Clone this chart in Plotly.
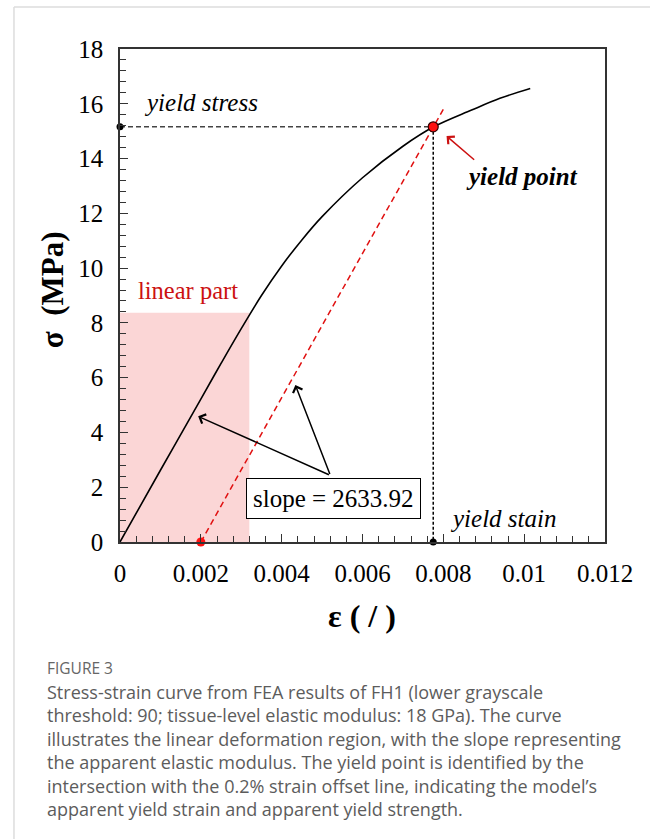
import plotly.graph_objects as go

# ---- data ----
strain = [0, 0.001, 0.002, 0.0025, 0.003, 0.0035, 0.004, 0.0045, 0.005, 0.006, 0.007, 0.00775, 0.0087, 0.0094, 0.01015]
stress = [0, 2.62, 5.22, 6.52, 7.79, 9.00, 10.08, 11.03, 11.88, 13.30, 14.45, 15.15, 15.77, 16.20, 16.56]

slope = 2633.92
offset_strain = 0.002
yield_strain = 0.00775
yield_stress = 15.16
offset_end_strain = 0.00803
linear_strain_max = 0.0032
linear_stress_max = 8.37

x_tickvals = [0, 0.002, 0.004, 0.006, 0.008, 0.01, 0.012]
x_ticktext = ["0", "0.002", "0.004", "0.006", "0.008", "0.01", "0.012"]
y_tickvals = [0, 2, 4, 6, 8, 10, 12, 14, 16, 18]

SERIF = "Liberation Serif"

fig = go.Figure()

# linear part region
fig.add_shape(type="rect", xref="x", yref="y", x0=0, x1=linear_strain_max, y0=0, y1=linear_stress_max,
              fillcolor="#fbd6d6", line_width=0, layer="below")

# stress-strain curve
fig.add_trace(go.Scatter(x=strain, y=stress, mode="lines",
                         line=dict(color="black", width=1.6, shape="spline", smoothing=1.0),
                         hoverinfo="skip"))

# 0.2% offset line
fig.add_trace(go.Scatter(x=[offset_strain, offset_end_strain],
                         y=[0, slope * (offset_end_strain - offset_strain)],
                         mode="lines", line=dict(color="#e01010", width=1.5, dash="6px,4px"), hoverinfo="skip"))

# yield stress horizontal dashed
fig.add_trace(go.Scatter(x=[0, yield_strain], y=[yield_stress, yield_stress], mode="lines",
                         line=dict(color="#444444", width=1.5, dash="5px,3px"), hoverinfo="skip"))
# yield strain vertical dotted
fig.add_trace(go.Scatter(x=[yield_strain, yield_strain], y=[yield_stress, 0], mode="lines",
                         line=dict(color="black", width=1.5, dash="3px,2px"), hoverinfo="skip"))

# black dots on axes
fig.add_trace(go.Scatter(x=[0, yield_strain], y=[yield_stress, 0], mode="markers",
                         marker=dict(color="black", size=7), cliponaxis=False, hoverinfo="skip"))
# red offset origin
fig.add_trace(go.Scatter(x=[offset_strain], y=[0], mode="markers",
                         marker=dict(color="#ff1010", size=9), cliponaxis=False, hoverinfo="skip"))
# yield point
fig.add_trace(go.Scatter(x=[yield_strain], y=[yield_stress], mode="markers",
                         marker=dict(color="#ff1010", size=10, line=dict(color="#330000", width=1.2)),
                         cliponaxis=False, hoverinfo="skip"))

ann = []
ann.append(dict(x=0.00201, y=16.03, xref="x", yref="y", text="<i>yield stress</i>", showarrow=False,
                font=dict(family=SERIF, size=25, color="black")))
ann.append(dict(x=0.00169, y=9.2, xref="x", yref="y", text="linear part", showarrow=False,
                font=dict(family=SERIF, size=24.5, color="#cc1111")))
ann.append(dict(x=0.00994, y=13.33, xref="x", yref="y", text="<b><i>yield point</i></b>", showarrow=False,
                font=dict(family=SERIF, size=25, color="black")))
ann.append(dict(x=0.00947, y=0.87, xref="x", yref="y", text="<i>yield stain</i>", showarrow=False,
                font=dict(family=SERIF, size=25, color="black")))
ann.append(dict(x=0.00527, y=1.60, xref="x", yref="y", text="slope = " + f"{slope:.2f}", showarrow=False,
                font=dict(family=SERIF, size=25, color="black"), bordercolor="black", borderwidth=1,
                borderpad=6, bgcolor="white"))
# arrows from the slope box
for hx, hy in [(0.001934, 4.59), (0.004339, 5.73)]:
    ann.append(dict(x=hx, y=hy, ax=0.005206, ay=2.43, xref="x", yref="y", axref="x", ayref="y", text="",
                    showarrow=True, arrowhead=4, arrowsize=1.3, arrowwidth=1.5, arrowcolor="black", standoff=0))
# red arrow to yield point
ann.append(dict(x=0.00808, y=14.82, ax=0.0088, ay=13.91, xref="x", yref="y", axref="x", ayref="y", text="",
                showarrow=True, arrowhead=4, arrowsize=1.3, arrowwidth=1.5, arrowcolor="#cc1111", standoff=0))

# axis titles
ann.append(dict(x=0.499, y=-0.150, xref="paper", yref="paper", xanchor="center", yanchor="middle",
                text="<b>ε ( / )</b>", showarrow=False, font=dict(family=SERIF, size=32, color="black")))
ann.append(dict(x=-0.140, y=0.511, xref="paper", yref="paper", xanchor="center", yanchor="middle",
                text="<b>σ  (MPa)</b>", showarrow=False,
                textangle=-90, font=dict(family=SERIF, size=31, color="black")))

# caption
ann.append(dict(x=-0.1546, y=-0.2556, xref="paper", yref="paper", xanchor="left", yanchor="middle",
                text="FIGURE 3", showarrow=False, font=dict(family="Open Sans", size=15.5, color="#666666")))
caption = ("Stress-strain curve from FEA results of FH1 (lower grayscale<br>"
           "threshold: 90; tissue-level elastic modulus: 18 GPa). The curve<br>"
           "illustrates the linear deformation region, with the slope representing<br>"
           "the apparent elastic modulus. The yield point is identified by the<br>"
           "intersection with the 0.2% strain offset line, indicating the model’s<br>"
           "apparent yield strain and apparent yield strength.")
ann.append(dict(x=-0.1546, y=-0.2759, xref="paper", yref="paper", xanchor="left", yanchor="top", align="left",
                text=caption, showarrow=False, font=dict(family="Open Sans", size=18, color="#5c5c5c")))

fig.update_layout(annotations=ann)

# page frame lines
fig.add_shape(type="line", xref="paper", yref="paper", x0=-0.2186, x1=1.0928, y0=1.0852, y1=1.0852,
              line=dict(color="#dddddd", width=1.5))
fig.add_shape(type="line", xref="paper", yref="paper", x0=-0.2186, x1=-0.2186, y0=1.0852, y1=-0.61,
              line=dict(color="#dddddd", width=1.5))

fig.update_xaxes(range=[0, 0.012], tickvals=x_tickvals, ticktext=x_ticktext, ticks="inside", ticklen=8,
                 tickwidth=1.2, tickcolor="#333", showline=True, linecolor="#333", linewidth=1.5, mirror=True,
                 showgrid=False, zeroline=False, ticklabelstandoff=8,
                 tickfont=dict(family=SERIF, size=25, color="black"),
                 minor=dict(dtick=0.0004, tick0=0, ticks="inside", ticklen=6, tickwidth=1.2, tickcolor="#333", showgrid=False))
fig.update_yaxes(range=[0, 18], tickvals=y_tickvals, ticks="inside", ticklen=8,
                 tickwidth=1.2, tickcolor="#333", showline=True, linecolor="#333", linewidth=1.5, mirror=True,
                 showgrid=False, zeroline=False, ticklabelstandoff=10,
                 tickfont=dict(family=SERIF, size=25, color="black"),
                 minor=dict(dtick=0.4, tick0=0, ticks="inside", ticklen=6, tickwidth=1.2, tickcolor="#333", showgrid=False))

fig.update_layout(width=655, height=839, margin=dict(l=120, r=50, t=49, b=297),
                  paper_bgcolor="white", plot_bgcolor="white", showlegend=False)

fig.write_html("out.html")
